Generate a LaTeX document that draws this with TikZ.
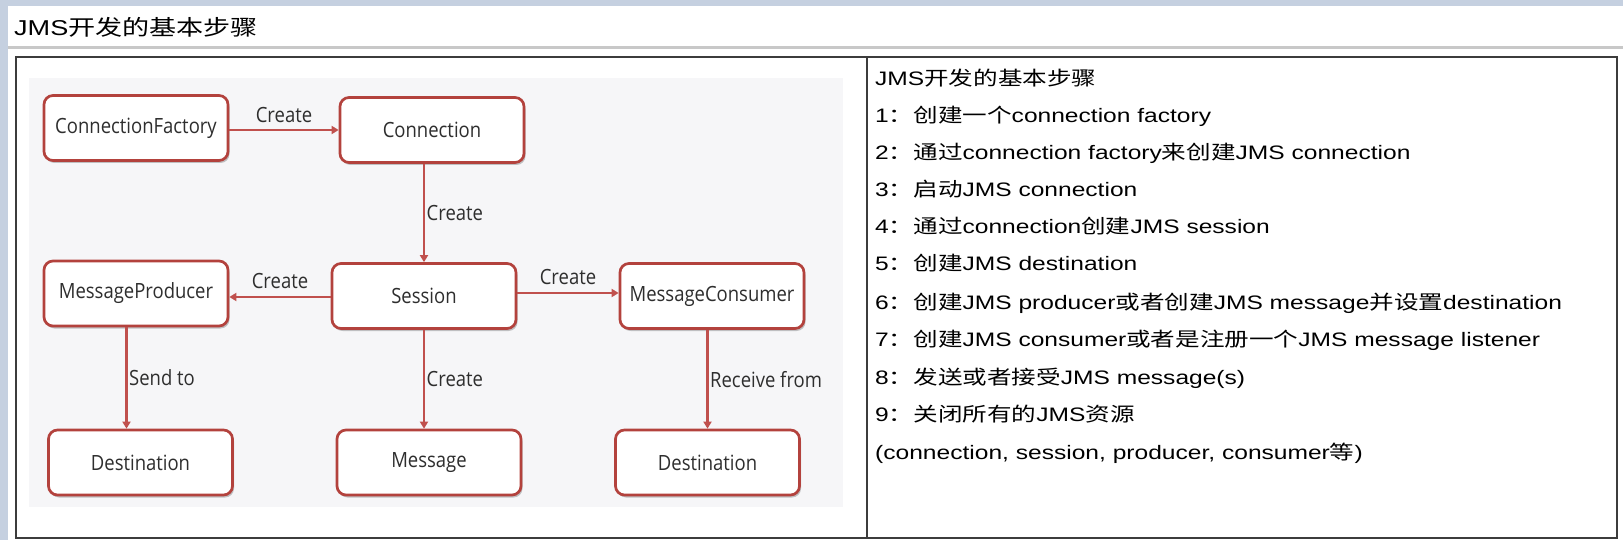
\documentclass[tikz,border=0pt]{standalone}
\usepackage{fontspec}
\setmainfont[FakeStretch=1.26]{Liberation Sans}
\newfontfamily\cjk[FakeStretch=1.26]{Noto Sans CJK SC}
\newfontfamily\dia[FakeStretch=0.88]{Open Sans}
\newcommand\zh[1]{{\cjk #1}}
\usetikzlibrary{arrows.meta,shadows}
\definecolor{stripblue}{HTML}{C5D0E0}
\definecolor{linegray}{HTML}{C8C8C8}
\definecolor{frame}{HTML}{3C3C3C}
\definecolor{diabg}{HTML}{F6F6F8}
\definecolor{boxred}{HTML}{B3423D}
\definecolor{arrred}{HTML}{C0504D}
\definecolor{diatext}{HTML}{2E2E2E}
\tikzset{
  blk/.style={draw=boxred, line width=2.7pt, rounded corners=9pt, fill=white,
    minimum width=184pt, minimum height=65pt, inner sep=0pt,
    font=\dia\fontsize{21}{25}\selectfont, text=diatext,
    drop shadow={shadow xshift=1.5pt, shadow yshift=-2.5pt, opacity=0.22, fill=black}},
  arr/.style={draw=arrred, line width=2.4pt, -{Triangle[length=7pt,width=8pt]}},
  lbl/.style={font=\dia\fontsize{21}{25}\selectfont, text=diatext, inner sep=1.5pt},
  stepline/.style={anchor=base west, inner sep=0pt, font=\fontsize{19.5}{24}\selectfont, text=black}
}
\begin{document}
\begin{tikzpicture}[x=1pt,y=-1pt]
\useasboundingbox (0,0) rectangle (1623,540);
\fill[white] (0,0) rectangle (1623,540);
\fill[stripblue] (0,0) rectangle (1623,6);
\fill[stripblue] (0,0) rectangle (8,540);
\fill[linegray] (8,46.5) rectangle (1623,49);
\node[anchor=base west, inner sep=0pt, font=\fontsize{21.5}{26}\selectfont] (title) at (14,36) {JMS\zh{开发的基本步骤}};
\draw[frame, line width=1.6pt] (16,57) rectangle (1617,538);
\draw[frame, line width=1.2pt] (867,57) -- (867,538);
\fill[diabg] (29,78) rectangle (843,507);

% nodes
\node[blk] (cf)   at (136,128)   {ConnectionFactory};
\node[blk] (conn) at (432,130)   {Connection};
\node[blk] (mp)   at (136,293.5) {MessageProducer};
\node[blk] (sess) at (424,296)   {Session};
\node[blk] (mc)   at (712,296)   {MessageConsumer};
\node[blk] (d1)   at (140.5,462.5) {Destination};
\node[blk] (msg)  at (429,462.5) {Message};
\node[blk] (d2)   at (707.5,462.5) {Destination};

% connectors
\draw[arr] ([yshift=-2pt]cf.east) -- ([yshift=-2pt]cf.east -| conn.west)
  node[lbl, midway, above=5pt] {Create};
\draw[arr] (sess.north |- conn.south) -- (sess.north)
  node[lbl, midway, right] {Create};
\draw[arr] ([yshift=-1pt]sess.west) -- ([yshift=-1pt]sess.west -| mp.east)
  node[lbl, midway, above=6pt] {Create};
\draw[arr] ([yshift=3pt]sess.east) -- ([yshift=3pt]sess.east -| mc.west)
  node[lbl, midway, above=6pt] {Create};
\draw[arr] ([xshift=-9.5pt]mp.south) -- ([xshift=-9.5pt]mp.south |- d1.north)
  node[lbl, midway, right] {Send to};
\draw[arr] (sess.south) -- (sess.south |- msg.north)
  node[lbl, midway, right] {Create};
\draw[arr] (mc.south -| d2.north) -- (d2.north)
  node[lbl, midway, right] {Receive from};

% right text
\node[stepline] (l0)  at (875,85.5)  {JMS\zh{开发的基本步骤}};
\node[stepline] (l1)  at (875,122.5) {1\zh{：创建一个}connection factory};
\node[stepline] (l2)  at (875,159.5) {2\zh{：通过}connection factory\zh{来创建}JMS connection};
\node[stepline] (l3)  at (875,197)   {3\zh{：启动}JMS connection};
\node[stepline] (l4)  at (875,234)   {4\zh{：通过}connection\zh{创建}JMS session};
\node[stepline] (l5)  at (875,271)   {5\zh{：创建}JMS destination};
\node[stepline] (l6)  at (875,309)   {6\zh{：创建}JMS producer\zh{或者创建}JMS message\zh{并设置}destination};
\node[stepline] (l7)  at (875,346.5) {7\zh{：创建}JMS consumer\zh{或者是注册一个}JMS message listener};
\node[stepline] (l8)  at (875,384.5) {8\zh{：发送或者接受}JMS message(s)};
\node[stepline] (l9)  at (875,421.5) {9\zh{：关闭所有的}JMS\zh{资源}};
\node[stepline] (l10) at (875,459)   {(connection, session, producer, consumer\zh{等})};
\end{tikzpicture}
\end{document}
